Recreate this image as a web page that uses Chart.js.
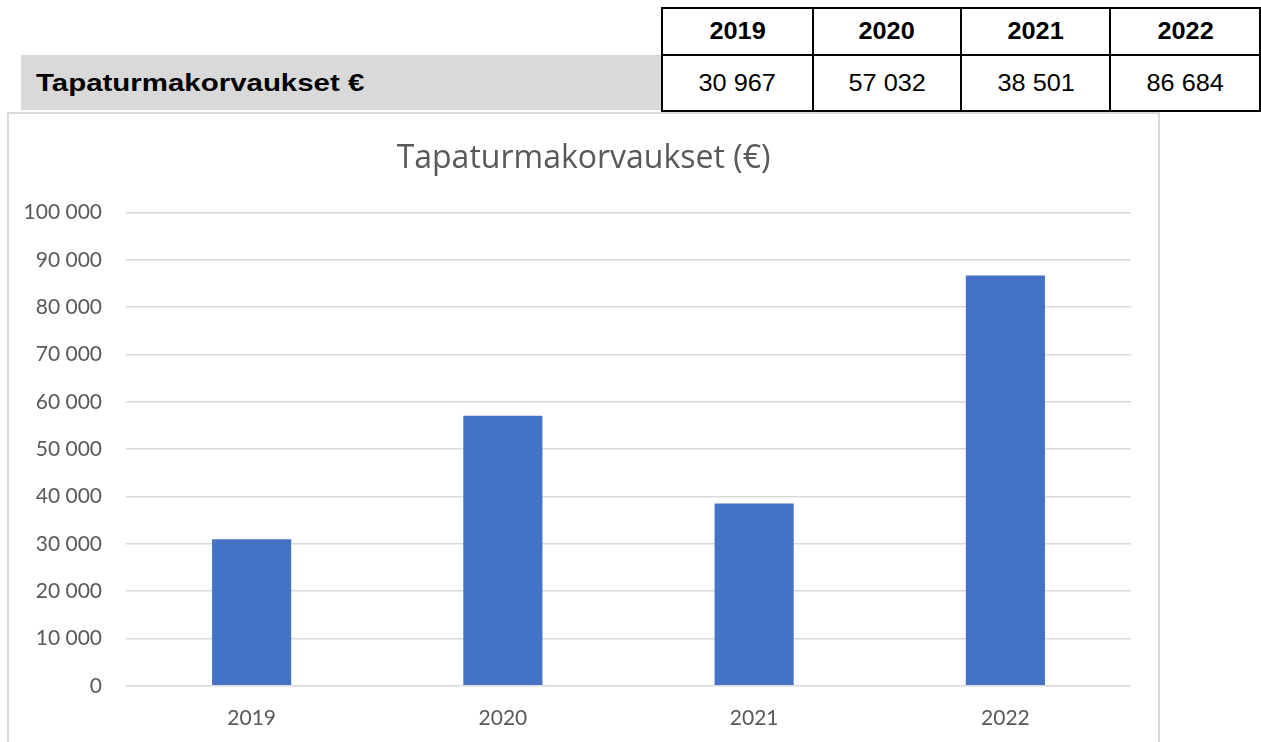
<!DOCTYPE html>
<html>
<head>
<meta charset="utf-8">
<script src="https://cdn.jsdelivr.net/npm/chart.js@4"></script>
<style>
  body { margin: 0; background: #fff; width: 1261px; height: 742px; overflow: hidden; position: relative; }
  #label { position: absolute; left: 21px; top: 55px; width: 642px; height: 55px; background: #d9d9d9; }
  #label span { position: absolute; left: 15px; top: 15px; font: bold 23px "Liberation Sans", Arial, sans-serif; color: #000; display: inline-block; transform: scaleX(1.28); transform-origin: left center; }
  table { position: absolute; left: 661px; top: 7px; border-collapse: collapse; font-family: "Liberation Sans", Arial, sans-serif; }
  td { border: 2px solid #000; text-align: center; padding: 0; font-size: 23px; color: #000; }
  td span { display: inline-block; transform: scaleX(1.1); }
  tr.head td { height: 45px; font-weight: bold; }
  tr.vals td { height: 53px; padding-top: 1px; }
  #box { position: absolute; left: 7px; top: 112px; width: 1153px; height: 700px; border: 2px solid #d9d9d9; box-sizing: border-box; }
  #wrap { position: absolute; left: 0; top: 0; width: 1149px; height: 657px; }
</style>
</head>
<body>
<div id="label"><span>Tapaturmakorvaukset €</span></div>
<table id="tbl">
  <tr class="head" id="headRow"></tr>
  <tr class="vals" id="valRow"></tr>
</table>
<div id="box"><div id="wrap"><canvas id="chart"></canvas></div></div>
<script>
// data
const years = ["2019", "2020", "2021", "2022"];
const amounts = [30967, 57032, 38501, 86684];
const colWidths = [153, 151, 151, 152];

function fmt(v) {
    return String(v).replace(/\B(?=(\d{3})+(?!\d))/g, " ");
}

// table above the chart
const headRow = document.getElementById("headRow");
const valRow = document.getElementById("valRow");
years.forEach((y, i) => {
    let th = document.createElement("td");
    th.style.width = colWidths[i] + "px";
    th.innerHTML = "<span>" + y + "</span>";
    headRow.appendChild(th);
    let td = document.createElement("td");
    td.innerHTML = "<span>" + fmt(amounts[i]) + "</span>";
    valRow.appendChild(td);
});

const grey = "#595959";
const ctx = document.getElementById("chart").getContext("2d");
new Chart(ctx, {
    type: "bar",
    data: {
        labels: years,
        datasets: [{
            data: amounts,
            backgroundColor: "#4472c4",
            borderWidth: 0,
            barPercentage: 0.315,
            categoryPercentage: 1
        }]
    },
    options: {
        responsive: true,
        maintainAspectRatio: false,
        animation: false,
        layout: { padding: { left: 0, right: 0, top: 0, bottom: 28 } },
        plugins: {
            legend: { display: false },
            tooltip: { enabled: false },
            title: {
                display: true,
                text: "Tapaturmakorvaukset (€)",
                color: grey,
                font: { family: "Open Sans", size: 32, weight: "normal" },
                padding: { top: 26, bottom: 34 }
            }
        },
        scales: {
            x: {
                grid: { display: false },
                border: { display: false },
                ticks: { color: grey, font: { family: "Lato", size: 21 }, padding: 12 }
            },
            y: {
                min: 0,
                max: 100000,
                afterFit: (scale) => { scale.width = 117; },
                grid: { color: "#d9d9d9", lineWidth: 1.5, drawTicks: false },
                border: { display: false },
                ticks: {
                    stepSize: 10000,
                    color: grey,
                    font: { family: "Lato", size: 21 },
                    padding: 24,
                    callback: (v) => fmt(v)
                }
            },
            // empty right gutter so the title stays centred on the whole box
            gutter: {
                type: "linear",
                position: "right",
                afterFit: (scale) => { scale.width = 27; },
                grid: { display: false },
                border: { display: false },
                ticks: { display: false }
            }
        }
    }
});
</script>
</body>
</html>
